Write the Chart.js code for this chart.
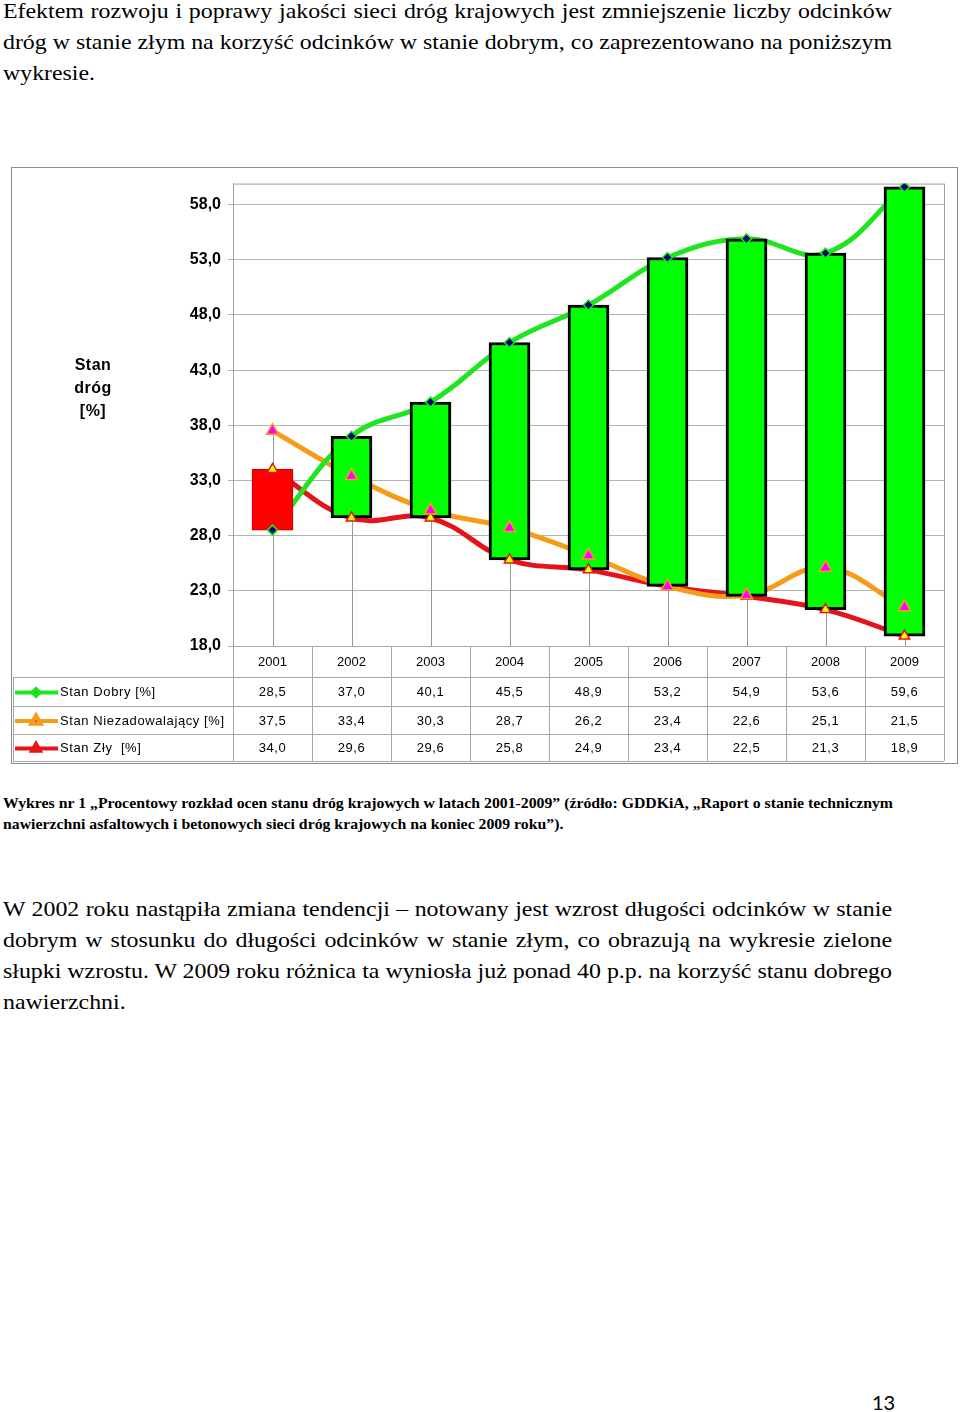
<!DOCTYPE html>
<html lang="pl">
<head>
<meta charset="utf-8">
<script src="https://cdn.jsdelivr.net/npm/chart.js@4.4.0/dist/chart.umd.min.js"></script>
<style>
body { margin: 0; width: 960px; height: 1412px; position: relative; background: #fff; overflow: hidden; }
.ln { position: absolute; left: 3px; white-space: nowrap; font-family: "Liberation Serif", "Times New Roman", serif; color: #000; transform-origin: 0 50%; }
.txt .ln { font-size: 21px; line-height: 24px; }
.cap .ln { font-size: 15px; line-height: 20px; font-weight: bold; }
.ln.just { white-space: normal; text-align: justify; text-align-last: justify; }
#box { position: absolute; left: 11px; top: 167px; width: 947px; height: 597px; }
#pg { position: absolute; left: 872px; top: 1389px; font-family: Lato, "Noto Sans", sans-serif; font-size: 20px; line-height: 26px; }
</style>
</head>
<body>

<div class="para txt">
  <div class="ln" data-y="11" data-r="892">Efektem rozwoju i poprawy jakości sieci dróg krajowych jest zmniejszenie liczby odcinków</div>
  <div class="ln" data-y="42" data-r="892">dróg w stanie złym na korzyść odcinków w stanie dobrym, co zaprezentowano na poniższym</div>
  <div class="ln" data-y="73" data-r="93">wykresie.</div>
</div>

<div id="box"><canvas id="chart" width="947" height="597"></canvas></div>

<div class="para cap">
  <div class="ln" data-y="803" data-r="893">Wykres nr 1 „Procentowy rozkład ocen stanu dróg krajowych w latach 2001-2009” (źródło: GDDKiA, „Raport o stanie technicznym</div>
  <div class="ln" data-y="824" data-r="560">nawierzchni asfaltowych i betonowych sieci dróg krajowych na koniec 2009 roku”).</div>
</div>

<div class="para txt">
  <div class="ln" data-y="909" data-r="892">W 2002 roku nastąpiła zmiana tendencji – notowany jest wzrost długości odcinków w stanie</div>
  <div class="ln" data-y="940" data-r="892">dobrym w stosunku do długości odcinków w stanie złym, co obrazują na wykresie zielone</div>
  <div class="ln" data-y="971" data-r="892">słupki wzrostu. W 2009 roku różnica ta wyniosła już ponad 40 p.p. na korzyść stanu dobrego</div>
  <div class="ln" data-y="1002" data-r="123">nawierzchni.</div>
</div>

<div id="pg">13</div>

<script>
const years = ['2001', '2002', '2003', '2004', '2005', '2006', '2007', '2008', '2009'];
const stanDobry = [28.5, 37.0, 40.1, 45.5, 48.9, 53.2, 54.9, 53.6, 59.6];
const stanNiezadowalajacy = [37.5, 33.4, 30.3, 28.7, 26.2, 23.4, 22.6, 25.1, 21.5];
const stanZly = [34.0, 29.6, 29.6, 25.8, 24.9, 23.4, 22.5, 21.3, 18.9];
const seriesNames = ['Stan Dobry [%]', 'Stan Niezadowalający [%]', 'Stan Zły  [%]'];
const yTicks = [18, 23, 28, 33, 38, 43, 48, 53, 58];
const yTitle = ['Stan', 'dróg', '[%]'];

const green = '#1ee61e';
const orange = '#f59d1a';
const red = '#e4141b';

const fmt = v => v.toFixed(1).replace('.', ',');

// text lines: one common horizontal scale per paragraph (the tightest full line),
// other full lines justified to the right edge
document.querySelectorAll('.para').forEach(par => {
    const lines = [...par.children];
    lines.forEach(l => { l.style.top = (+l.dataset.y - parseFloat(getComputedStyle(l).lineHeight) / 2) + 'px'; });
    const full = lines.slice(0, -1);
    const s = Math.min(...full.map(l => (+l.dataset.r - 3) / l.offsetWidth));
    lines.forEach(l => {
        if (full.includes(l)) {
            l.style.width = ((+l.dataset.r - 3) / s) + 'px';
            l.classList.add('just');
        }
        l.style.transform = `scaleX(${s})`;
    });
});

// up-down bars between Stan Dobry and Stan Zły
const isUp = stanDobry.map((d, i) => d >= stanZly[i]);

const markerStyles = [
    { pointStyle: 'rectRot', radius: 5, bg: '#000080', border: green },
    { pointStyle: 'triangle', radius: 7, bg: '#ff00ff', border: orange },
    { pointStyle: 'triangle', radius: 6, bg: '#ffff00', border: red }
];
const seriesData = [stanDobry, stanNiezadowalajacy, stanZly];
const seriesColors = [green, orange, red];

const tablePlugin = {
    id: 'tablePlugin',
    beforeDatasetsDraw(chart) {
        const { ctx, chartArea, scales: { x, y } } = chart;
        ctx.save();
        // drop lines
        ctx.strokeStyle = '#9a9a9a';
        ctx.lineWidth = 1;
        ctx.beginPath();
        years.forEach((_, i) => {
            const px = Math.round(x.getPixelForValue(i)) + 0.5;
            const top = Math.max(stanDobry[i], stanNiezadowalajacy[i], stanZly[i]);
            ctx.moveTo(px, y.getPixelForValue(top));
            ctx.lineTo(px, chartArea.bottom);
        });
        ctx.stroke();
        // plot frame
        ctx.strokeStyle = '#a0a0a0';
        ctx.strokeRect(chartArea.left + 0.5, chartArea.top + 0.5, chartArea.width, chartArea.height);
        ctx.restore();
    },
    afterDraw(chart) {
        const { ctx, chartArea, scales: { x } } = chart;
        const rows = [chartArea.bottom, 510, 539, 567, 594];
        const half = (x.getPixelForValue(1) - x.getPixelForValue(0)) / 2;
        ctx.save();
        ctx.strokeStyle = '#a8a8a8';
        ctx.lineWidth = 1;
        ctx.beginPath();
        rows.forEach((ry, r) => {
            ctx.moveTo(r === 0 ? chartArea.left : 2, ry + 0.5);
            ctx.lineTo(chartArea.right, ry + 0.5);
        });
        ctx.moveTo(2.5, rows[1]);
        ctx.lineTo(2.5, rows[4]);
        years.forEach((_, i) => {
            const bx = Math.round(x.getPixelForValue(i) - half) + 0.5;
            ctx.moveTo(bx, rows[0]);
            ctx.lineTo(bx, rows[4]);
        });
        ctx.moveTo(chartArea.right + 0.5, rows[0]);
        ctx.lineTo(chartArea.right + 0.5, rows[4]);
        ctx.stroke();

        // values + legend keys
        ctx.font = '13px "Liberation Sans", Arial, sans-serif';
        ctx.fillStyle = '#000';
        ctx.textBaseline = 'middle';
        seriesData.forEach((arr, s) => {
            const cy = (rows[s + 1] + rows[s + 2]) / 2 + 1;
            ctx.letterSpacing = '0.5px';
            ctx.textAlign = 'center';
            arr.forEach((v, i) => ctx.fillText(fmt(v), x.getPixelForValue(i), cy));
            ctx.letterSpacing = '0.6px';
            ctx.textAlign = 'left';
            ctx.fillText(seriesNames[s], 49, cy);
            ctx.strokeStyle = seriesColors[s];
            ctx.lineWidth = 4;
            ctx.beginPath();
            ctx.moveTo(4, cy);
            ctx.lineTo(47, cy);
            ctx.stroke();
            const m = markerStyles[s];
            ctx.fillStyle = m.bg;
            ctx.strokeStyle = m.border;
            Chart.helpers.drawPoint(ctx, { pointStyle: m.pointStyle, radius: m.radius - 1.5, borderWidth: 1, rotation: 0 }, 25, cy);
            ctx.fillStyle = '#000';
        });

        // y axis title
        ctx.font = 'bold 16px "Liberation Sans", Arial, sans-serif';
        ctx.letterSpacing = '0.5px';
        ctx.textAlign = 'center';
        yTitle.forEach((t, i) => ctx.fillText(t, 82, 199 + i * 23));

        // outer frame
        ctx.letterSpacing = '0px';
        ctx.strokeStyle = '#8c8c8c';
        ctx.lineWidth = 1;
        ctx.strokeRect(0.5, 0.5, chart.width - 1, chart.height - 1);
        ctx.restore();
    }
};

const lineSets = seriesData.map((arr, s) => ({
    type: 'line',
    label: seriesNames[s],
    data: arr,
    borderColor: seriesColors[s],
    borderWidth: 5,
    tension: 0.4,
    pointRadius: 0,
    fill: false,
    order: 3
}));

const markerSets = seriesData.map((arr, s) => ({
    type: 'line',
    data: arr,
    showLine: false,
    pointStyle: markerStyles[s].pointStyle,
    pointRadius: markerStyles[s].radius,
    pointBackgroundColor: markerStyles[s].bg,
    pointBorderColor: markerStyles[s].border,
    pointBorderWidth: 1.5,
    order: 1
}));

new Chart(document.getElementById('chart'), {
    type: 'bar',
    data: {
        labels: years,
        datasets: [
            ...lineSets,
            {
                type: 'bar',
                data: years.map((_, i) => [stanZly[i], stanDobry[i]]),
                backgroundColor: isUp.map(u => u ? '#00ff00' : '#ff0000'),
                borderColor: isUp.map(u => u ? '#000000' : '#c80000'),
                borderWidth: isUp.map(u => u ? 3 : 1),
                borderSkipped: false,
                barThickness: 41,
                order: 2
            },
            ...markerSets
        ]
    },
    options: {
        responsive: false,
        animation: false,
        layout: { padding: { top: 15, right: 14, bottom: 0, left: 0 } },
        plugins: { legend: { display: false }, tooltip: { enabled: false } },
        scales: {
            x: {
                offset: true,
                grid: { display: false },
                border: { display: false },
                ticks: {
                    color: '#000',
                    padding: 1,
                    font: { family: '"Liberation Sans", Arial, sans-serif', size: 13 }
                },
                afterFit: s => { s.height = 118; }
            },
            y: {
                min: 18,
                max: 59.9,
                afterBuildTicks: s => { s.ticks = yTicks.map(v => ({ value: v })); },
                afterFit: s => { s.width = 222; },
                grid: { color: '#b4b4b4', tickLength: 5 },
                border: { color: '#a0a0a0' },
                ticks: {
                    color: '#000',
                    padding: 7,
                    font: { family: '"Liberation Sans", Arial, sans-serif', size: 16, weight: 'bold' },
                    callback: v => fmt(v)
                }
            }
        }
    },
    plugins: [tablePlugin]
});
</script>
</body>
</html>
